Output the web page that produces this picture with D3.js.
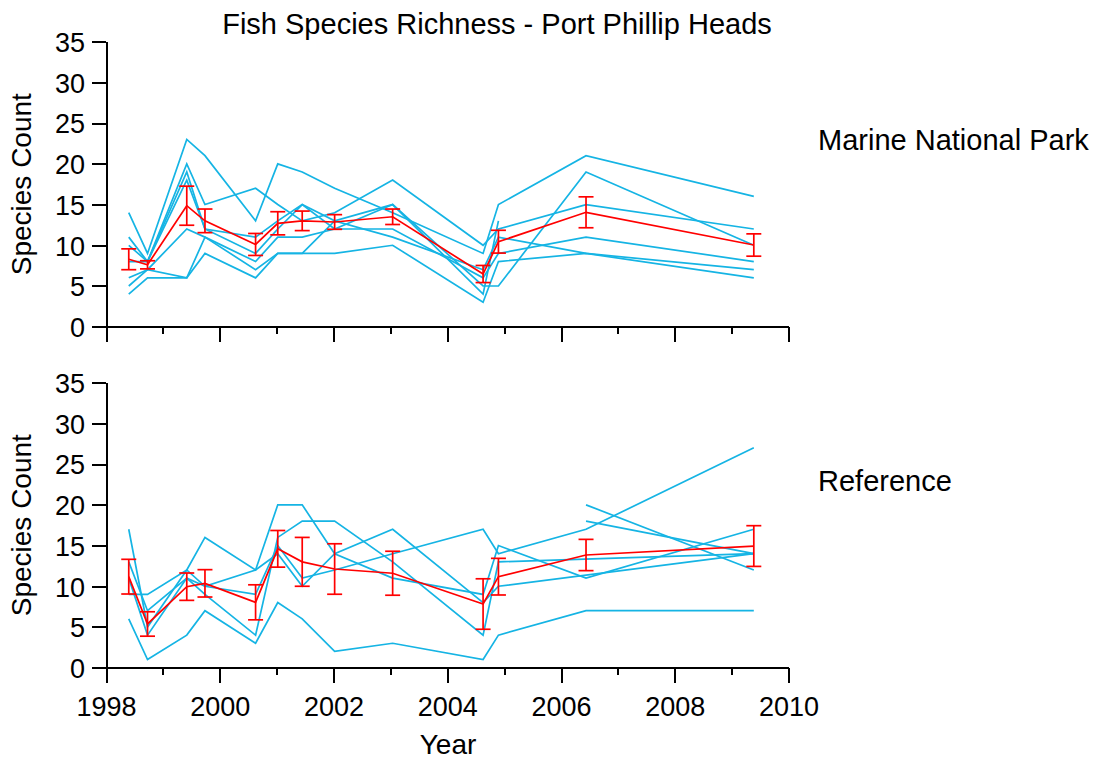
<!DOCTYPE html>
<html>
<head>
<meta charset="utf-8">
<script src="https://cdnjs.cloudflare.com/ajax/libs/d3/7.8.5/d3.min.js"></script>
<style>
  body { margin: 0; background: #fff; }
  svg { font-family: "Liberation Sans", Arial, Helvetica, sans-serif; }
  .axis path, .axis line { stroke: #000; stroke-width: 2; shape-rendering: crispEdges; }
  .axis text { font-size: 27px; fill: #000; }
</style>
</head>
<body>
<svg id="chart" width="1098" height="760"></svg>
<script>
// sampling dates (decimal years)
var years = [1998.40, 1998.73, 1999.42, 1999.74, 2000.63, 2001.02, 2001.45,
             2002.02, 2003.04, 2004.63, 2004.90, 2006.44, 2009.39];

// Marine National Park sites
var mnpSites = [
  [14, 9, 23, 21, 13, 20, 19, 17, 14, 9, 15, 21, 16],
  [11, 8, 20, 15, 17, 15, 13, 14, 18, 10, 12, 15, 12],
  [10, 8, 19, 12, 11, 13, 15, 13, 15, 5, 5, 19, 10],
  [8, 8, 18, 12, 9, 12, 15, 12, 15, 4, 13, null, null],
  [6, 7, 12, 11, 8, 11, 11, 12, 12, 6, 9, 11, 8],
  [5, 7, 6, 11, 7, 9, 9, 13, 11, 7, 11, 9, 7],
  [4, 6, 6, 9, 6, 9, 9, 9, 10, 3, 8, 9, 6]
];
var mnpMean = [8.28, 7.6, 14.86, 13.0, 10.1, 12.7, 13.0, 12.86, 13.5, 6.47, 10.44, 14.05, 10.03];
var mnpErr = [1.28, 0.5, 2.4, 1.45, 1.35, 1.42, 1.2, 0.9, 0.95, 1.05, 1.4, 1.9, 1.37];

// Reference sites
var refSites = [
  [6, 1, 4, 7, 3, 8, 6, 2, 3, 1, 4, 7, 7],
  [17, 5, 12, 16, 12, 20, 20, 14, 11, 9, 15, 11, 17],
  [13, 7, 11, 9, 4, 16, 18, 18, 13, 4, 13, null, 14],
  [11, 4, 11, 10, 9, 15, 11, 12, 14, 17, 14, 17, 27],
  [9, 9, 12, 10, 12, 14, 10, 14, 17, 8, 10, null, 14],
  [null, null, null, null, null, null, null, null, null, null, null, 20, 12],
  [null, null, null, null, null, null, null, null, null, null, null, 18, 14]
];
var refMean = [11.18, 5.37, 9.95, 10.36, 8.03, 14.6, 13.0, 12.12, 11.6, 7.82, 11.18, 13.84, 14.94];
var refErr = [2.13, 1.5, 1.68, 1.68, 2.15, 2.25, 3.0, 3.1, 2.7, 3.1, 2.25, 1.92, 2.5];

var xTicks = [1998, 1999, 2000, 2001, 2002, 2003, 2004, 2005, 2006, 2007, 2008, 2009, 2010];
var yTicks = [0, 5, 10, 15, 20, 25, 30, 35];

(function() {
  var svg, x, panels, siteColor, meanColor;

  svg = d3.select('#chart');
  siteColor = '#15b4e4';
  meanColor = '#ff0000';

  x = d3.scaleLinear().domain([1998, 2010]).range([106, 788.5]);

  panels = [
    { name: 'Marine National Park', sites: mnpSites, mean: mnpMean, err: mnpErr, top: 41.7, bottom: 326.7, labels: false },
    { name: 'Reference', sites: refSites, mean: refMean, err: refErr, top: 382.7, bottom: 667.7, labels: true }
  ];

  svg.append('text')
    .attr('x', 497).attr('y', 34)
    .attr('text-anchor', 'middle')
    .attr('font-size', 29)
    .text('Fish Species Richness - Port Phillip Heads');

  panels.forEach(function(p) {
    var y, g, line, xAxis, yAxis, pts;

    y = d3.scaleLinear().domain([0, 35]).range([p.bottom, p.top]);
    g = svg.append('g');

    line = d3.line()
      .x(function(d) { return x(d[0]); })
      .y(function(d) { return y(d[1]); });

    // site lines
    p.sites.forEach(function(s) {
      pts = [];
      s.forEach(function(v, i) { if (v != null) pts.push([years[i], v]); });
      g.append('path')
        .attr('d', line(pts))
        .attr('fill', 'none')
        .attr('stroke', siteColor)
        .attr('stroke-width', 1.7);
    });

    // mean line with error bars
    pts = p.mean.map(function(v, i) { return [years[i], v]; });
    g.append('path')
      .attr('d', line(pts))
      .attr('fill', 'none')
      .attr('stroke', meanColor)
      .attr('stroke-width', 1.7);

    var eb = g.selectAll('.eb').data(pts).enter().append('g')
      .attr('stroke', meanColor).attr('stroke-width', 1.7);
    eb.append('line')
      .attr('x1', function(d) { return x(d[0]); })
      .attr('x2', function(d) { return x(d[0]); })
      .attr('y1', function(d, i) { return y(d[1] - p.err[i]); })
      .attr('y2', function(d, i) { return y(d[1] + p.err[i]); });
    [-1, 1].forEach(function(sgn) {
      eb.append('line')
        .attr('x1', function(d) { return x(d[0]) - 7.5; })
        .attr('x2', function(d) { return x(d[0]) + 7.5; })
        .attr('y1', function(d, i) { return y(d[1] + sgn * p.err[i]); })
        .attr('y2', function(d, i) { return y(d[1] + sgn * p.err[i]); });
    });

    // axes
    yAxis = d3.axisLeft(y).tickValues(yTicks).tickSize(14).tickSizeOuter(0).tickPadding(7);
    g.append('g').attr('class', 'axis')
      .attr('transform', 'translate(' + x(1998) + ',0)')
      .call(yAxis)
      .selectAll('text').attr('dy', '0.36em');

    xAxis = d3.axisBottom(x).tickValues(xTicks).tickSize(15).tickSizeOuter(0).tickPadding(14)
      .tickFormat(function(d) { return (p.labels && d % 2 === 0) ? d : ''; });
    var xg = g.append('g').attr('class', 'axis')
      .attr('transform', 'translate(0,' + p.bottom + ')')
      .call(xAxis);
    xg.selectAll('.tick line')
      .attr('y2', function(d) { return d % 2 === 0 ? 15 : 7; });

    g.append('text')
      .attr('transform', 'translate(31,' + ((p.top + p.bottom) / 2) + ') rotate(-90)')
      .attr('text-anchor', 'middle')
      .attr('font-size', 28)
      .text('Species Count');

    g.append('text')
      .attr('x', 818)
      .attr('y', (p.top + p.bottom) / 2 - 34)
      .attr('font-size', 29)
      .text(p.name);
  });

  svg.append('text')
    .attr('x', 448).attr('y', 754)
    .attr('text-anchor', 'middle')
    .attr('font-size', 28)
    .text('Year');
})();
</script>
</body>
</html>
